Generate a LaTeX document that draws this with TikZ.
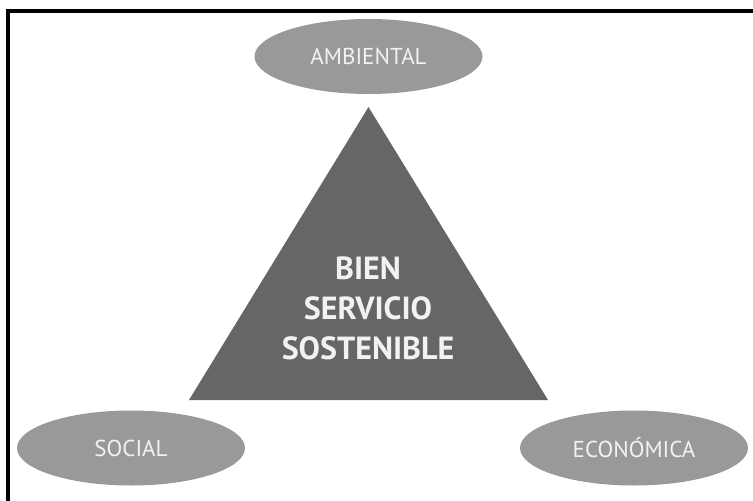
\documentclass[tikz,border=0pt]{standalone}
\usepackage{fontspec}
\setsansfont{PT Sans}
\usepackage{tikz}
\usetikzlibrary{shapes}
\definecolor{triangulo}{gray}{0.40}
\definecolor{elipse}{gray}{0.60}
\definecolor{letra}{gray}{0.95}

\begin{document}
\begin{tikzpicture}[x=1pt,y=-1pt]
  \tikzstyle{pilar}=[ellipse,fill=elipse,minimum width=228pt,minimum height=75pt,inner sep=0pt,
    text=letra,font=\sffamily\fontsize{23}{23}\selectfont]
  \useasboundingbox (0,0) rectangle (753,501);
  % marco
  \draw[line width=4.5pt] (8,501) -- (8,11) -- (753,11);
  % triangulo central
  \coordinate (cima) at (368.5,107);
  \coordinate (izq) at (189,400);
  \coordinate (der) at (548,400);
  \fill[triangulo] (cima) -- (izq) -- (der) -- cycle;
  \node[text=letra,align=center,font=\sffamily\bfseries\fontsize{32}{40}\selectfont] (bien) at (368,308)
    {BIEN\\SERVICIO\\SOSTENIBLE};
  % los tres pilares
  \node[pilar] (ambiental) at (368.5,56.5) {AMBIENTAL};
  \node[pilar] (social) at (131,448) {SOCIAL};
  \node[pilar] (economica) at (634,448) {ECONÓMICA};
\end{tikzpicture}
\end{document}
